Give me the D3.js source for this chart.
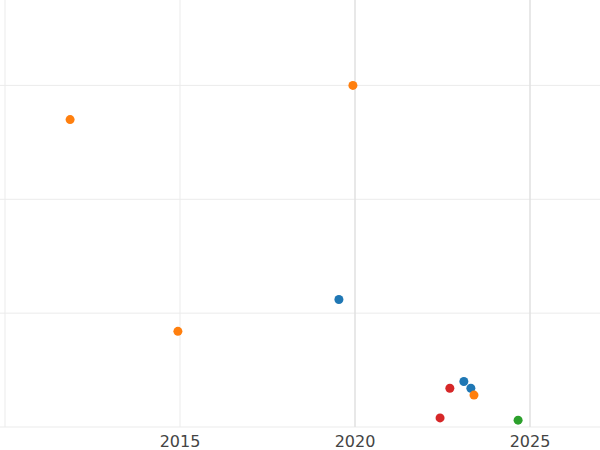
<!DOCTYPE html>
<html><head><meta charset="utf-8">
<script src="https://cdn.jsdelivr.net/npm/d3@7"></script>
<style>body{margin:0;background:#fff}</style></head>
<body><svg id="c" width="600" height="450"></svg>
<script>
const years  = [2011.86, 2019.94, 2019.54, 2014.94, 2023.11, 2023.31, 2022.71, 2023.40, 2022.43, 2024.66];
const values = [27.0, 30.0, 11.2, 8.4, 4.0, 3.4, 3.4, 2.8, 0.8, 0.6];
const groups = ["B","B","A","B","A","A","D","B","D","C"];
const xTicks = [2010, 2015, 2020, 2025];
const yTicks = [0, 10, 20, 30];
const colors = {A:"#1f77b4", B:"#ff7f0e", C:"#2ca02c", D:"#d62728"};

const svg = d3.select("#c");
const x = d3.scaleLinear().domain([2010, 2027]).range([5, 600]);
const y = d3.scaleLinear().domain([0, 37.5]).range([427, 0]);

svg.append("g").selectAll("line").data(yTicks).join("line")
  .attr("x1",0).attr("x2",600).attr("y1",d=>y(d)).attr("y2",d=>y(d))
  .attr("stroke","#ebebeb").attr("stroke-width",1);
svg.append("g").selectAll("line").data(xTicks).join("line")
  .attr("x1",d=>x(d)).attr("x2",d=>x(d)).attr("y1",0).attr("y2",427)
  .attr("stroke",d=>d>=2020?"#e0e0e0":"#ebebeb").attr("stroke-width",d=>d>=2020?1.5:1);

svg.append("g").selectAll("text").data(xTicks.filter(d=>d>2010)).join("text")
  .attr("x",d=>x(d)).attr("y",447).attr("text-anchor","middle")
  .attr("font-family","DejaVu Sans").attr("font-size",16).attr("fill","#444")
  .text(d=>d);

svg.append("g").selectAll("circle").data(years).join("circle")
  .attr("cx",(d)=>x(d)).attr("cy",(d,i)=>y(values[i])).attr("r",4.5)
  .attr("fill",(d,i)=>colors[groups[i]]);
</script></body></html>
